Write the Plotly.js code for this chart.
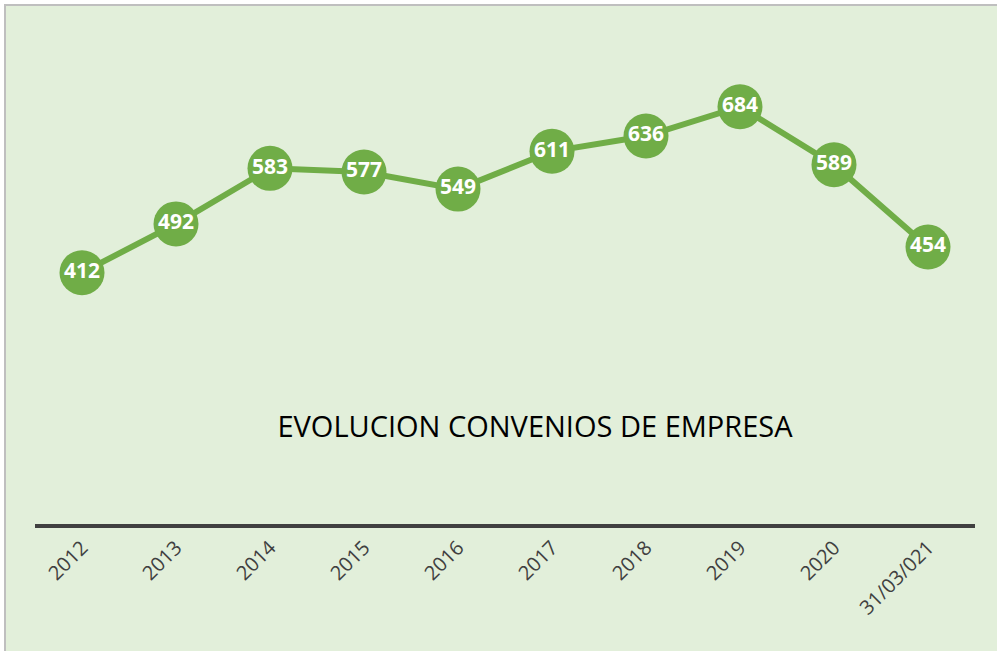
<!DOCTYPE html>
<html>
<head>
<meta charset="utf-8">
<script src="https://cdn.plot.ly/plotly-3.0.1.min.js"></script>
<style>
html,body{margin:0;padding:0;background:#ffffff;}
#chart{width:997px;height:651px;}
</style>
</head>
<body>
<div id="chart"></div>
<script>
const categories = ["2012","2013","2014","2015","2016","2017","2018","2019","2020","31/03/021"];
const convenios = [412, 492, 583, 577, 549, 611, 636, 684, 589, 454];
const chartTitle = "EVOLUCION CONVENIOS DE EMPRESA";

const green = "#70AD47";
const trace = {
  x: categories,
  y: convenios,
  type: "scatter",
  mode: "lines+markers+text",
  line: {color: green, width: 6},
  marker: {color: green, size: 45, line: {width: 0}},
  text: convenios.map(String),
  textposition: "middle center",
  textfont: {family: "Open Sans, sans-serif", size: 21, color: "#ffffff", weight: "bold"},
  hoverinfo: "x+y",
  cliponaxis: false
};

const layout = {
  width: 997,
  height: 651,
  margin: {l: 35, r: 22, t: 36, b: 127, pad: 0},
  paper_bgcolor: "#ffffff",
  plot_bgcolor: "rgba(0,0,0,0)",
  showlegend: false,
  title: {
    text: chartTitle,
    font: {family: "Open Sans, sans-serif", size: 29, color: "#000000"},
    xref: "container", yref: "container",
    x: 0.5366, y: 0.344, xanchor: "center", yanchor: "middle"
  },
  xaxis: {
    type: "category",
    range: [-0.5, categories.length - 0.5],
    showgrid: false,
    zeroline: false,
    showline: true,
    linecolor: "#404040",
    linewidth: 4,
    ticks: "",
    tickangle: -45,
    tickfont: {family: "Open Sans, sans-serif", size: 20, color: "#404040"},
    fixedrange: true
  },
  yaxis: {
    range: [0, 800],
    visible: false,
    showgrid: false,
    zeroline: false,
    fixedrange: true
  },
  shapes: [{
    type: "rect",
    xref: "paper", yref: "paper",
    x0: -30/940, x1: 1.03,
    y0: -0.29, y1: 519/488,
    fillcolor: "#E2EFDA",
    line: {color: "#BFBFBF", width: 2},
    layer: "below"
  }]
};

Plotly.newPlot("chart", [trace], layout, {displayModeBar: false, staticPlot: true});
</script>
</body>
</html>
